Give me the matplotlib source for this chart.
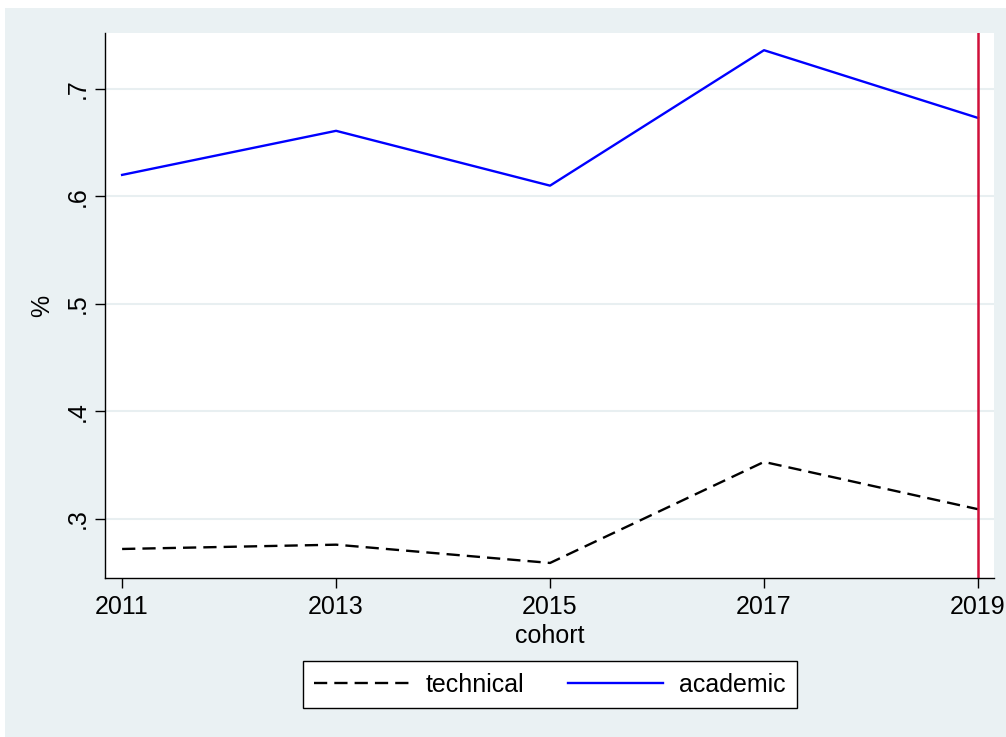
import matplotlib
matplotlib.use("Agg")
import matplotlib.pyplot as plt
from matplotlib.patches import Rectangle

plt.rcParams['font.family'] = ['Liberation Sans', 'DejaVu Sans']

cohort = [2011, 2013, 2015, 2017, 2019]
technical = [0.272, 0.276, 0.259, 0.353, 0.309]
academic = [0.620, 0.661, 0.610, 0.736, 0.673]
yticks = [0.3, 0.4, 0.5, 0.6, 0.7]
ylabels = ['.3', '.4', '.5', '.6', '.7']

BG = '#EAF1F3'
FS = 18

fig = plt.figure(figsize=(10.06, 7.37), dpi=100)
fig.patch.set_facecolor('white')
fig.patches.append(Rectangle((5 / 1006, 0.0), 1.0, 1 - 8 / 737,
                             transform=fig.transFigure, facecolor=BG,
                             edgecolor='none', zorder=-10))

ax = fig.add_axes([105 / 1006, 1 - 578 / 737, 889 / 1006, 545 / 737])
ax.set_facecolor('white')

ax.plot(cohort, technical, color='black', lw=1.7, dashes=(5.6, 3.0), label='technical')
ax.plot(cohort, academic, color='#0000FF', lw=1.7, label='academic')
ax.axvline(2019, color='#D0103A', lw=1.8)

ax.set_xlim(2010.84, 2019.15)
ax.set_ylim(0.245, 0.752)
ax.set_xticks(cohort)
ax.set_yticks(yticks)
ax.set_yticklabels(ylabels, rotation=90, va='center')
ax.tick_params(labelsize=FS, length=7, width=1, direction='out', pad=4)
ax.tick_params(axis='x', pad=5)
ax.grid(axis='y', color='#E8EFF1', lw=1.5)
ax.set_axisbelow(True)

for s in ['top', 'right']:
    ax.spines[s].set_visible(False)
for s in ['left', 'bottom']:
    ax.spines[s].set_linewidth(1)

ax.set_xlabel('cohort', fontsize=FS, labelpad=4)
ax.set_ylabel('%', fontsize=FS, labelpad=8)

leg = fig.legend(loc='center', bbox_to_anchor=(550 / 1006, 1 - 684.5 / 737),
                 ncol=2, fontsize=FS, frameon=True, fancybox=False,
                 handlelength=3.8, handletextpad=0.65, columnspacing=1.75,
                 borderpad=0.45, borderaxespad=0)
leg.get_frame().set_edgecolor('black')
leg.get_frame().set_linewidth(1)
leg.get_frame().set_facecolor('white')
leg.get_frame().set_alpha(1)

fig.savefig('out.png', dpi=100, facecolor=fig.get_facecolor())
